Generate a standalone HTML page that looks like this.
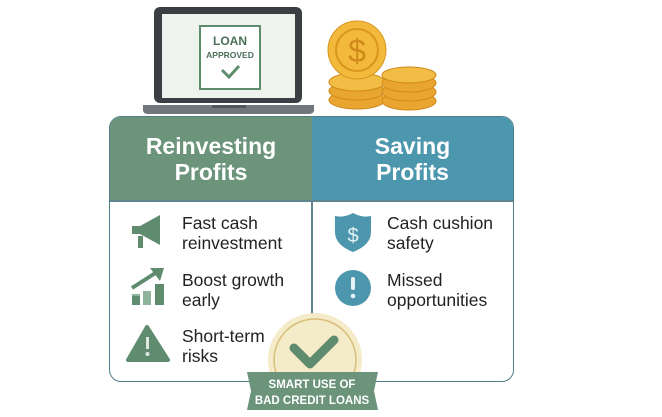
<!DOCTYPE html>
<html><head><style>
body{margin:0;width:662px;height:417px;background:#fff;position:relative;overflow:hidden;font-family:"Liberation Sans",sans-serif}
.a{position:absolute}
.card{left:109px;top:116px;width:403px;height:264px;border:1.5px solid #4f7f8a;border-radius:12px;overflow:hidden;background:#fff}
.h{top:0;height:83px;color:#fff;font-weight:bold;font-size:23px;text-align:center;line-height:26px;display:flex;align-items:center;justify-content:center}
.t{font-size:17.5px;color:#222;line-height:20px}
</style></head><body>
<div class="a card">
 <div class="a h" style="left:0;width:202px;background:#6b947b">Reinvesting<br>Profits</div>
 <div class="a h" style="left:202px;width:201px;background:#4c96ae">Saving<br>Profits</div>
 <div class="a" style="left:201px;top:83px;width:1.5px;height:181px;background:#5e8590"></div>
 <div class="a" style="left:0;top:83px;width:403px;height:1.5px;background:#5e8590"></div>
</div>
<svg class="a" style="left:0;top:0" width="662" height="417">
 <rect x="154" y="7" width="148" height="96" rx="6" fill="#3b3f43"/>
 <rect x="162" y="14" width="133" height="84" fill="#eef3ee"/>
 <path d="M143 105 H314 V110 Q314 114 308 114 H149 Q143 114 143 110Z" fill="#6f777d"/>
 <rect x="212" y="105" width="34" height="3" fill="#50575c"/>
 <rect x="200" y="26" width="60" height="63" fill="#fff" stroke="#5e8d6e" stroke-width="2"/>
 <text x="230" y="45" text-anchor="middle" font-family="Liberation Sans" font-weight="bold" font-size="12" fill="#4c6f5a">LOAN</text>
 <text x="230" y="58" text-anchor="middle" font-family="Liberation Sans" font-weight="bold" font-size="8.5" fill="#4c6f5a">APPROVED</text>
 <path d="M222 70 L229 77 L239 66" stroke="#5e8d6e" stroke-width="3" fill="none"/>
 <g fill="#e8a630" stroke="#d08a1a" stroke-width="1">
  <ellipse cx="357" cy="100" rx="28" ry="9"/><ellipse cx="357" cy="91" rx="28" ry="9"/><ellipse cx="357" cy="82" rx="28" ry="9" fill="#f2bd45"/>
  <ellipse cx="409" cy="101" rx="27" ry="9"/><ellipse cx="409" cy="92" rx="27" ry="9"/><ellipse cx="409" cy="83" rx="27" ry="9"/><ellipse cx="409" cy="75" rx="27" ry="8" fill="#f2bd45"/>
 </g>
 <circle cx="357" cy="50" r="29" fill="#f2b93b" stroke="#d8951f"/>
 <circle cx="357" cy="50" r="21" fill="none" stroke="#d8951f" stroke-width="2"/>
 <text x="357" y="62" text-anchor="middle" font-family="Liberation Sans" font-size="32" fill="#d08a1a">$</text>
 <g fill="#5f8c6f">
  <path d="M132 226 h8 l20 -11 v30 l-20 -11 h-8z"/><rect x="138" y="236" width="5" height="12"/>
  <path d="M132 300 v-6 h8 v6z M143 305 v-14 h8 v14z" fill="#8db39a"/><rect x="155" y="284" width="9" height="21"/><rect x="132" y="296" width="8" height="9"/>
  <path d="M132 288 L157 272" stroke="#5f8c6f" stroke-width="4" fill="none"/><path d="M150 268 L164 268 L160 281z"/>
  <path d="M147 327 L168 360 H128 Z" stroke="#5f8c6f" stroke-width="4" stroke-linejoin="round"/>
  <rect x="146" y="337" width="3" height="12" fill="#dfe9e2"/><circle cx="147.5" cy="354" r="2" fill="#dfe9e2"/>
 </g>
 <g fill="#4c96ae">
  <path d="M353 213 Q362 218 371 216 V232 Q371 245 353 252 Q335 245 335 232 V216 Q344 218 353 213Z"/>
  <text x="353" y="242" text-anchor="middle" font-family="Liberation Sans" font-size="20" fill="#e6f2f6">$</text>
  <circle cx="353" cy="288" r="18"/>
  <rect x="351" y="277" width="4" height="13" rx="2" fill="#e6f2f6"/><circle cx="353" cy="296" r="2.3" fill="#e6f2f6"/>
 </g>
 <circle cx="315" cy="360" r="47" fill="#f4ebc9"/>
 <circle cx="315" cy="360" r="41" fill="none" stroke="#d9be7a" stroke-width="1.5"/>
 <path d="M294 348 L310 364 L334 340" stroke="#5f8c6f" stroke-width="9" fill="none" stroke-linecap="round" stroke-linejoin="round"/>
 <path d="M247 372 H378 L374 391 L378 410 H247 L251 391Z" fill="#6b947b"/>
 <text x="312" y="388" text-anchor="middle" font-family="Liberation Sans" font-weight="bold" font-size="11.5" fill="#fff">SMART USE OF</text>
 <text x="312" y="404" text-anchor="middle" font-family="Liberation Sans" font-weight="bold" font-size="11.5" fill="#fff">BAD CREDIT LOANS</text>
</svg>
<div class="a t" style="left:182px;top:213px">Fast cash<br>reinvestment</div>
<div class="a t" style="left:182px;top:270px">Boost growth<br>early</div>
<div class="a t" style="left:182px;top:326px">Short-term<br>risks</div>
<div class="a t" style="left:387px;top:213px">Cash cushion<br>safety</div>
<div class="a t" style="left:387px;top:270px">Missed<br>opportunities</div>
</body></html>
